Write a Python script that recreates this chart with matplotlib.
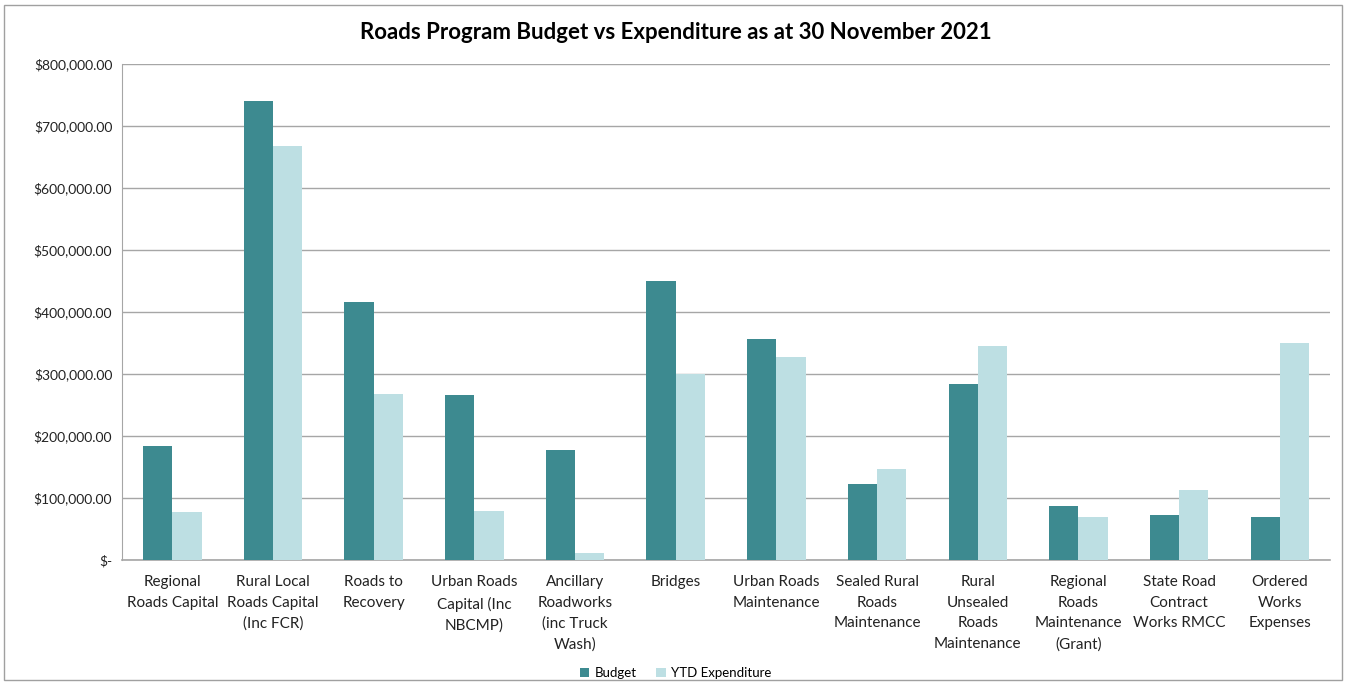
import numpy as np
import matplotlib
matplotlib.use("Agg")
from matplotlib import pyplot as plt
from matplotlib.patches import Rectangle

plt.rcParams['font.family'] = ['Lato', 'DejaVu Sans']

# chart data
categories = [
    "Regional\nRoads Capital",
    "Rural Local\nRoads Capital\n(Inc FCR)",
    "Roads to\nRecovery",
    "Urban Roads\nCapital (Inc\nNBCMP)",
    "Ancillary\nRoadworks\n(inc Truck\nWash)",
    "Bridges",
    "Urban Roads\nMaintenance",
    "Sealed Rural\nRoads\nMaintenance",
    "Rural\nUnsealed\nRoads\nMaintenance",
    "Regional\nRoads\nMaintenance\n(Grant)",
    "State Road\nContract\nWorks RMCC",
    "Ordered\nWorks\nExpenses",
]
budget = [184000, 740000, 416000, 266000, 178000, 450000, 356000, 123000, 284000, 87000, 73000, 69000]
ytd_expenditure = [77000, 668000, 268000, 79000, 11000, 300000, 327000, 147000, 345000, 69000, 113000, 350000]
yticks = [0, 100000, 200000, 300000, 400000, 500000, 600000, 700000, 800000]

budget_color = '#3D8A90'
ytd_color = '#BDDFE3'

fig = plt.figure(figsize=(13.51, 6.85), dpi=100)
ax = fig.add_axes([0.0903, 0.1825, 0.8942, 0.7241])

x = np.arange(len(categories))
w = 0.29
ax.bar(x - w / 2, budget, w, color=budget_color, label='Budget', zorder=3)
ax.bar(x + w / 2, ytd_expenditure, w, color=ytd_color, label='YTD Expenditure', zorder=3)

ax.set_xlim(-0.5, len(categories) - 0.5)
ax.set_ylim(0, 800000)
ax.set_yticks(yticks)
ax.set_yticklabels(['$-' if v == 0 else f'${v:,.2f}' for v in yticks], fontsize=10)
ax.set_xticks(x)
ax.set_xticklabels(categories, fontsize=11, linespacing=1.6)
ax.tick_params(axis='both', length=0, colors='#222222')
ax.tick_params(axis='x', pad=11)
ax.tick_params(axis='y', pad=7)

ax.grid(axis='y', color='#A6A6A6', linewidth=1.0, zorder=0)
for side in ['top', 'right']:
    ax.spines[side].set_visible(False)
ax.spines['left'].set_color('#A6A6A6')
ax.spines['bottom'].set_color('#A6A6A6')
ax.spines['bottom'].set_linewidth(1.2)

fig.suptitle('Roads Program Budget vs Expenditure as at 30 November 2021',
             fontsize=16, fontweight='bold', y=0.968)

fig.legend(loc='lower center', bbox_to_anchor=(0.5, -0.003), ncol=2, frameon=False,
           fontsize=9.5, handlelength=0.7, handleheight=0.7, columnspacing=1.5,
           handletextpad=0.4, borderaxespad=0.2)

# outer chart border
fig.patches.append(Rectangle((0.003, 0.007), 0.990, 0.985, transform=fig.transFigure,
                             fill=False, edgecolor='#A0A0A0', linewidth=1))

fig.savefig('out.png', dpi=100)
